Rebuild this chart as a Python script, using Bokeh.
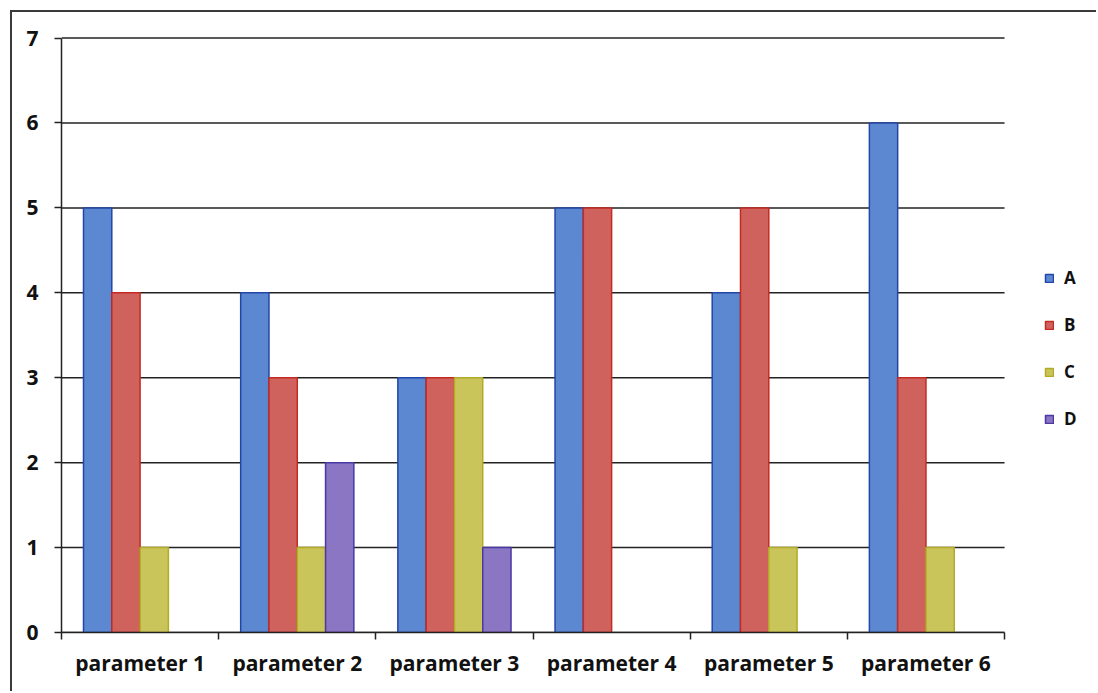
from bokeh.plotting import figure
from bokeh.models import FixedTicker, Legend, LegendItem, ColumnDataSource
from bokeh.embed import file_html
from bokeh.resources import INLINE

categories = ["parameter 1", "parameter 2", "parameter 3", "parameter 4", "parameter 5", "parameter 6"]
series = ["A", "B", "C", "D"]
A = [5, 4, 3, 5, 4, 6]
B = [4, 3, 3, 5, 5, 3]
C = [1, 1, 3, 0, 1, 1]
D = [0, 2, 1, 0, 0, 0]
values = {"A": A, "B": B, "C": C, "D": D}
y_ticks = [0, 1, 2, 3, 4, 5, 6, 7]

fills = {"A": "#5B88D0", "B": "#D0625E", "C": "#C9C55A", "D": "#8A76C2"}
lines = {"A": "#2445A8", "B": "#C42A22", "C": "#B3AA28", "D": "#4A38A4"}

FONT = "Open Sans"
n = len(categories)

p = figure(width=1086, height=681, x_range=(0, n + 0.585), y_range=(0, 7.03),
           output_backend="svg", toolbar_location=None,
           min_border_left=49, min_border_right=2, min_border_top=23, min_border_bottom=61)
p.margin = (10, 0, 0, 10)
p.styles = {"border-left": "2px solid #3a3a3a", "border-top": "2px solid #3a3a3a"}

p.outline_line_color = None
p.background_fill_color = "white"

# horizontal gridlines limited to the category area
p.segment(x0=[0] * len(y_ticks), x1=[n] * len(y_ticks), y0=y_ticks, y1=y_ticks,
          line_color="#222222", line_width=1.5, level="underlay")

offsets = [-0.27, -0.09, 0.09, 0.27]
width = 0.18
items = []
for s, off in zip(series, offsets):
    xs = [i + 0.5 + off for i, v in enumerate(values[s]) if v > 0]
    tops = [v for v in values[s] if v > 0]
    src = ColumnDataSource(dict(x=xs, top=tops))
    r = p.vbar(x="x", top="top", bottom=0, width=width, source=src,
               fill_color=fills[s], line_color=lines[s], line_width=1.5)
    items.append(LegendItem(label=s, renderers=[r]))

# x axis
p.xaxis.bounds = (0, n)
p.xaxis.ticker = FixedTicker(ticks=[i + 0.5 for i in range(n)],
                             minor_ticks=list(range(n + 1)))
p.xaxis.major_label_overrides = {i + 0.5: c for i, c in enumerate(categories)}
p.xaxis.major_tick_out = 0
p.xaxis.major_tick_in = 0
p.xaxis.minor_tick_out = 7
p.xaxis.minor_tick_in = 0
p.xaxis.minor_tick_line_color = "#222222"
p.xaxis.minor_tick_line_width = 1.5
p.xaxis.axis_line_color = "#222222"
p.xaxis.axis_line_width = 1.5
p.xaxis.major_label_standoff = 9
p.xaxis.major_label_text_font = FONT
p.xaxis.major_label_text_font_style = "bold"
p.xaxis.major_label_text_font_size = "21px"
p.xaxis.major_label_text_color = "#111111"

# y axis
p.yaxis.bounds = (0, 7)
p.yaxis.ticker = FixedTicker(ticks=y_ticks)
p.yaxis.minor_tick_line_color = None
p.yaxis.major_tick_out = 7
p.yaxis.major_tick_in = 0
p.yaxis.major_tick_line_color = "#222222"
p.yaxis.major_tick_line_width = 1.5
p.yaxis.axis_line_color = "#222222"
p.yaxis.axis_line_width = 1.5
p.yaxis.major_label_standoff = 16
p.yaxis.major_label_text_font = FONT
p.yaxis.major_label_text_font_style = "bold"
p.yaxis.major_label_text_font_size = "21px"
p.yaxis.major_label_text_color = "#111111"

p.xgrid.grid_line_color = None
p.ygrid.grid_line_color = None

legend = Legend(items=items, location=(983, 202), orientation="vertical",
                glyph_width=10, glyph_height=10, label_height=20, spacing=24,
                label_text_font=FONT, label_text_font_size="17px",
                label_text_font_style="bold",
                label_text_color="#111111", label_standoff=10,
                border_line_color=None, background_fill_alpha=0,
                margin=0, padding=0)
p.add_layout(legend, "center")

open("out.html", "w").write(file_html(p, INLINE))
